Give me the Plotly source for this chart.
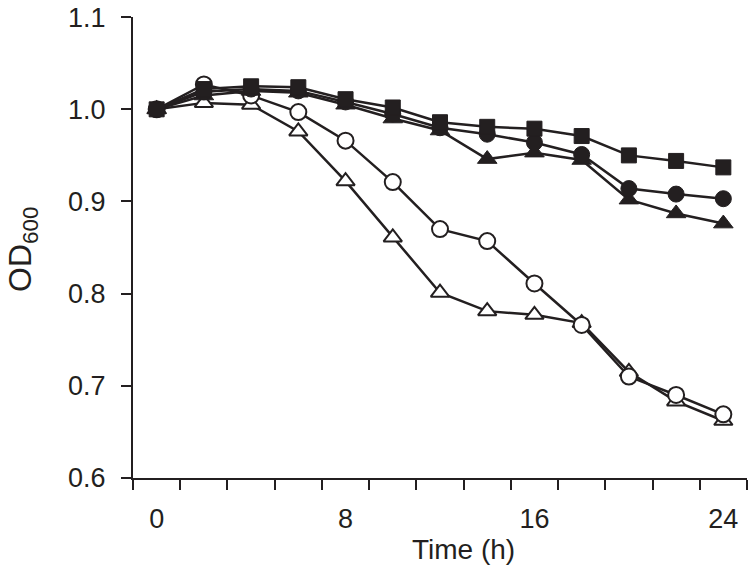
import plotly.graph_objects as go

time_h = [0, 2, 4, 6, 8, 10, 12, 14, 16, 18, 20, 22, 24]
filled_square = [1.000, 1.022, 1.025, 1.024, 1.011, 1.002, 0.986, 0.981, 0.979, 0.971, 0.950, 0.944, 0.937]
filled_circle = [1.000, 1.019, 1.022, 1.020, 1.008, 0.995, 0.980, 0.973, 0.964, 0.951, 0.914, 0.908, 0.903]
filled_triangle = [1.000, 1.015, 1.020, 1.018, 1.005, 0.990, 0.977, 0.946, 0.953, 0.945, 0.902, 0.887, 0.876]
open_circle = [1.000, 1.027, 1.015, 0.997, 0.966, 0.921, 0.870, 0.857, 0.811, 0.766, 0.710, 0.690, 0.669]
open_triangle = [1.000, 1.007, 1.005, 0.976, 0.922, 0.861, 0.801, 0.781, 0.777, 0.768, 0.715, 0.683, 0.662]

x_tick_vals = [0, 8, 16, 24]
x_tick_text = ["0", "8", "16", "24"]
x_minor_vals = [-1, 1, 3, 5, 7, 9, 11, 13, 15, 17, 19, 21, 23, 25]
y_tick_vals = [0.6, 0.7, 0.8, 0.9, 1.0, 1.1]
y_tick_text = ["0.6", "0.7", "0.8", "0.9", "1.0", "1.1"]

INK = "#231f20"
FONT = "Liberation Sans, Arial, sans-serif"

fig = go.Figure()

def add(y, symbol, filled, size):
    fig.add_trace(go.Scatter(
        x=time_h, y=y, mode="lines+markers",
        line=dict(color=INK, width=2.5),
        marker=dict(symbol=symbol, size=size,
                    color=INK if filled else "white",
                    line=dict(color=INK, width=2 if not filled else 1)),
        showlegend=False, cliponaxis=False,
    ))

add(open_triangle, "triangle-up", False, 16)
add(open_circle, "circle", False, 16)
add(filled_triangle, "triangle-up", True, 17)
add(filled_circle, "circle", True, 16)
add(filled_square, "square", True, 15)

W, H = 748, 570
L, T = 133, 17
B = H - 478
R = W - 747
pw, ph = W - L - R, H - T - B

fig.update_layout(
    width=W, height=H,
    margin=dict(l=L, r=R, t=T, b=B, pad=0),
    paper_bgcolor="white", plot_bgcolor="white",
    font=dict(family=FONT, size=26, color=INK),
)
fig.update_xaxes(
    range=[-1.002, 25.002], showgrid=False, zeroline=False,
    showline=True, linecolor=INK, linewidth=2,
    tickmode="array", tickvals=x_tick_vals, ticktext=x_tick_text,
    ticks="", ticklabelstandoff=16,
    tickfont=dict(family=FONT, size=27, color=INK),
    minor=dict(tickmode="array", tickvals=x_minor_vals, ticks="outside",
               ticklen=10, tickwidth=2, tickcolor=INK, showgrid=False),
)
fig.update_yaxes(
    range=[0.5999, 1.1002], showgrid=False, zeroline=False,
    showline=True, linecolor=INK, linewidth=2,
    tickmode="array", tickvals=y_tick_vals, ticktext=y_tick_text,
    ticks="outside", ticklen=10, tickwidth=2, tickcolor=INK,
    ticklabelstandoff=10,
    tickfont=dict(family=FONT, size=27, color=INK),
)

def px2paper(px, py):
    return (px - L) / pw, (H - B - py) / ph

ax, ay = px2paper(463, 549)
fig.add_annotation(text="Time (h)", x=ax, y=ay, xref="paper", yref="paper",
                   showarrow=False, xanchor="center", yanchor="middle",
                   font=dict(family=FONT, size=28, color=INK))
bx, by = px2paper(22, 250)
fig.add_annotation(text="OD<sub>600</sub>", x=bx, y=by, xref="paper", yref="paper",
                   showarrow=False, xanchor="center", yanchor="middle", textangle=-90,
                   font=dict(family=FONT, size=32, color=INK))

fig.write_html("out.html", config={"displayModeBar": False},
               post_script="document.body.style.margin='0';")
